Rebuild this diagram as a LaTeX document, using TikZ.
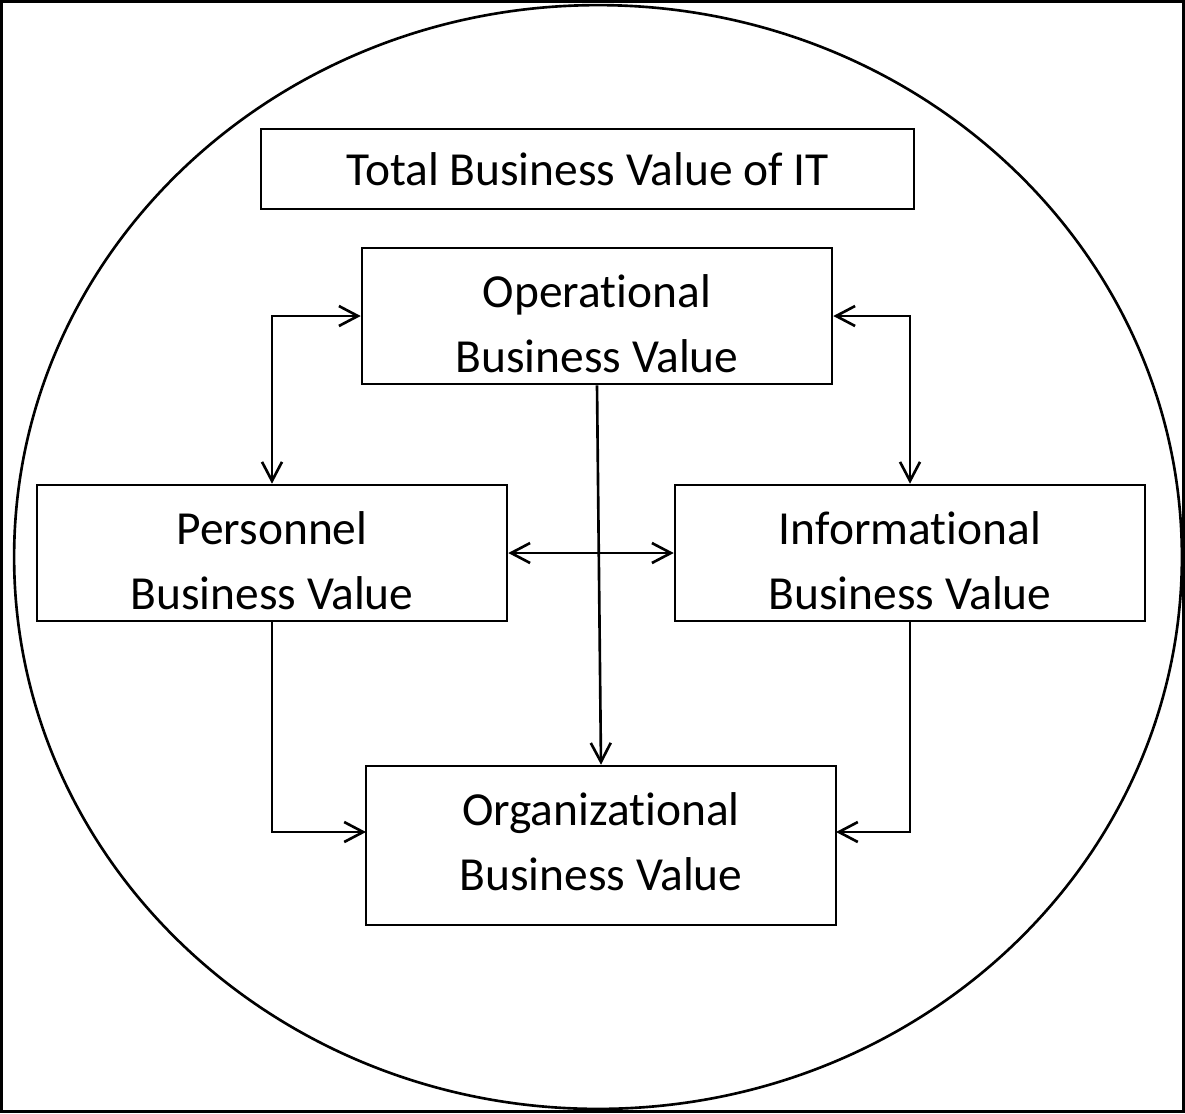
\documentclass[tikz,border=0pt]{standalone}
\usepackage{fontspec}
\setmainfont{Carlito}[Ligatures=NoCommon]
\usetikzlibrary{arrows.meta}

\newcommand{\topgap}[1]{\rule{0pt}{#1}}

\tikzset{
  valuebox/.style={draw, line width=1.5pt, minimum width=9.4cm, minimum height=2.72cm,
    align=center, font=\fontsize{27}{37}\selectfont, inner sep=0pt},
  raised/.style={execute at end node={\rule[-#1]{0pt}{0pt}}},
  link/.style={line width=1.5pt, {Straight Barb[length=3.8mm,width=4mm]}-{Straight Barb[length=3.8mm,width=4mm]}},
  onelink/.style={line width=1.5pt, -{Straight Barb[length=3.8mm,width=4mm]}}
}

\begin{document}
\begin{tikzpicture}[x=0.02cm, y=-0.02cm]
   \useasboundingbox (0,0) rectangle (1185,1113);
   \draw[line width=1.6pt] (1.5,1.5) rectangle (1183.5,1111.5);
   \draw[line width=1.5pt] (598,557) ellipse [x radius=11.68cm, y radius=11.04cm];
   % title
   \node[valuebox, minimum width=13.06cm, minimum height=1.6cm] (total) at (587.5,169) {Total Business Value of IT};
   % the four values
   \node[valuebox] (op) at (597,316) {\topgap{27pt}Operational\\Business Value};
   \node[valuebox] (per) at (272,553) {\topgap{28pt}Personnel\\Business Value};
   \node[valuebox] (inf) at (910,553) {\topgap{28pt}Informational\\Business Value};
   \node[valuebox, raised=4.5pt, minimum height=3.18cm] (org) at (601,845.5) {Organizational\\Business Value};
   \coordinate (orgin) at (366,832);
   \coordinate (orgout) at (836,832);
   % arrows
   \draw[link] (per.north) |- (op.west);
   \draw[link] (inf.north) |- (op.east);
   \draw[link] (per.east) -- (inf.west);
   \draw[onelink] (op.south) -- (org.north);
   \draw[onelink] (per.south) |- (orgin);
   \draw[onelink] (inf.south) |- (orgout);
\end{tikzpicture}
\end{document}
